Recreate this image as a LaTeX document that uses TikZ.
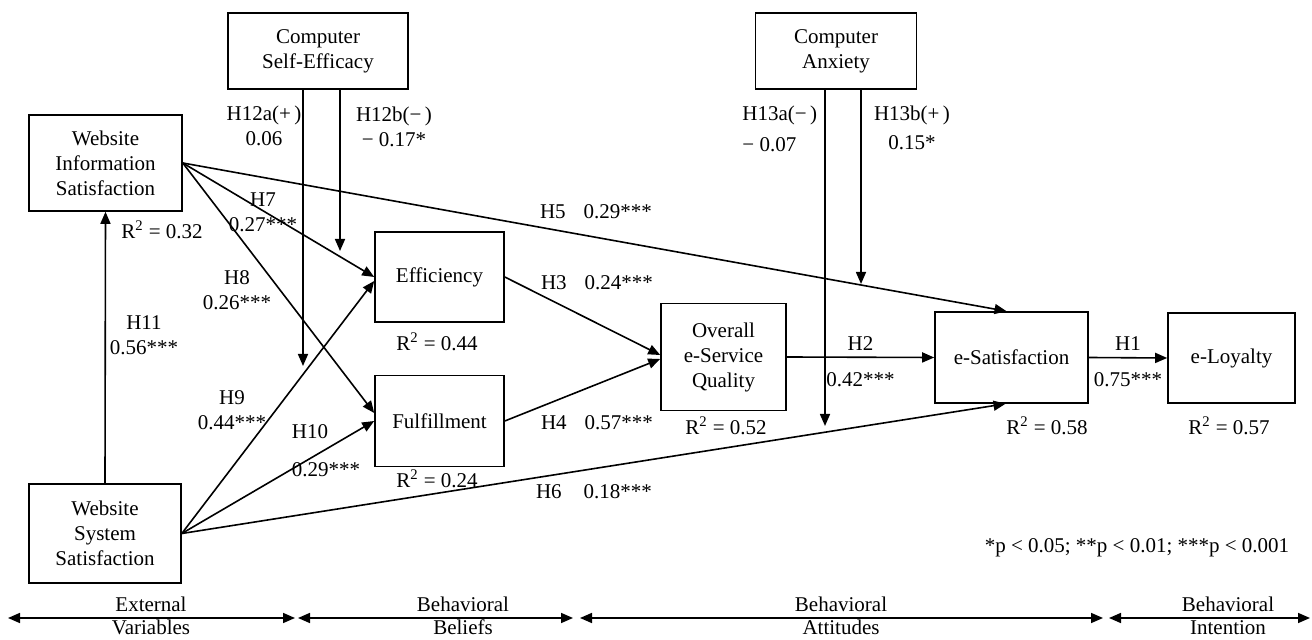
\documentclass[tikz,border=0pt]{standalone}
\usepackage{fontspec}
\setmainfont{Liberation Serif}
\usetikzlibrary{positioning,arrows.meta}

\tikzset{
  box/.style={draw, thick, align=center, inner sep=0pt},
  lbl/.style={align=center, inner sep=0pt}
}

\begin{document}
\begin{tikzpicture}[x=0.5pt, y=-0.5pt, >={Triangle[length=6pt,width=5pt]},
    font=\fontsize{10.5pt}{12.5pt}\selectfont]
        \useasboundingbox (0, 0) rectangle (1312, 640);

        % constructs
        \draw (318, 51) node[box, minimum width=90pt, minimum height=38pt] (cse) {Computer\\Self-Efficacy};

        \draw (836, 51) node[box, minimum width=80.5pt, minimum height=38pt] (ca) {Computer\\Anxiety};

        \draw (105.5, 163) node[box, minimum width=76.5pt, minimum height=48pt] (wis) {Website\\Information\\Satisfaction};

        \draw (105, 533.5) node[box, minimum width=76pt, minimum height=49.5pt] (wss) {Website\\System\\Satisfaction};

        \draw (439.5, 277) node[box, minimum width=64.5pt, minimum height=45pt] (eff) {Efficiency};

        \draw (439.5, 421) node[box, minimum width=64.5pt, minimum height=45.5pt] (ful) {Fulfillment};

        \draw (723.5, 357) node[box, minimum width=62.5pt, minimum height=53.5pt] (osq) {Overall\\e-Service\\Quality};

        \draw (1011.5, 357.5) node[box, minimum width=76.5pt, minimum height=45.5pt] (esat) {e-Satisfaction};

        \draw (1231.5, 358) node[box, minimum width=63.5pt, minimum height=45pt] (eloy) {e-Loyalty};

        % paths
        \draw[thick,->] (wss.north) to (wis.south);

        \draw[thick,->] (wis.east) to (eff.west);

        \draw[thick,->] (wis.east) to ([yshift=4pt]ful.west);

        \draw[thick,->] (wis.east) to ([xshift=-2.5pt]esat.north);

        \draw[thick,->] (wss.east) to ([yshift=-2pt]eff.west);

        \draw[thick,->] (wss.east) to (ful.west);

        \draw[thick,->] (wss.east) to ([xshift=-3pt]esat.south);

        \draw[thick,->] (eff.east) to ([yshift=1pt]osq.west);

        \draw[thick,->] (ful.east) to ([yshift=-1pt]osq.west);

        \draw[thick,->] (osq.east) to node[lbl, above=3pt] (h2) {H2}
        node[lbl, below=7pt] (c2) {0.42***} (esat.west);

        \draw[thick,->] (esat.east) to node[lbl, above=3pt] (h1) {H1}
        node[lbl, below=7pt] (c1) {0.75***} (eloy.west);

        % moderators
        \coordinate (m12a) at (303, 366);

        \coordinate (m12b) at (340, 251);

        \coordinate (m13a) at (825, 426);

        \coordinate (m13b) at (861, 284);

        \draw[thick,->] (cse.south -| m12a) to (m12a);

        \draw[thick,->] (cse.south -| m12b) to (m12b);

        \draw[thick,->] (ca.south -| m13a) to (m13a);

        \draw[thick,->] (ca.south -| m13b) to (m13b);

        % labels
        \draw (264, 126) node[lbl] (l12a) {H12a(+\,)\\0.06};

        \draw (394, 127) node[lbl] (l12b) {H12b(−\,)\\− 0.17*};

        \draw (742, 129) node[lbl, align=left, anchor=west] (l13a) {H13a(−\,)\\[3pt]− 0.07};

        \draw (912, 128) node[lbl] (l13b) {H13b(+\,)\\[2pt]0.15*};

        \draw (162, 230) node[lbl] (r1) {R\textsuperscript{2} = 0.32};

        \draw (263, 212) node[lbl] (l7) {H7\\0.27***};

        \draw (237, 290) node[lbl] (l8) {H8\\0.26***};

        \draw (144, 335) node[lbl] (l11) {H11\\0.56***};

        \draw (232, 410) node[lbl] (l9) {H9\\0.44***};

        \draw (310, 432) node[lbl] (l10) {H10};

        \draw (326, 470) node[lbl] (c10) {0.29***};

        \draw (437, 342) node[lbl] (r2) {R\textsuperscript{2} = 0.44};

        \draw (437, 479) node[lbl] (r3) {R\textsuperscript{2} = 0.24};

        \draw (596, 212) node[lbl] (l5) {H5\hspace{9pt}0.29***};

        \draw (597, 283) node[lbl] (l3) {H3\hspace{9pt}0.24***};

        \draw (597, 423) node[lbl] (l4) {H4\hspace{9pt}0.57***};

        \draw (594, 492) node[lbl] (l6) {H6\hspace{11pt}0.18***};

        \draw (726, 426) node[lbl] (r4) {R\textsuperscript{2} = 0.52};

        \draw (1047, 426) node[lbl] (r5) {R\textsuperscript{2} = 0.58};

        \draw (1229, 426) node[lbl] (r6) {R\textsuperscript{2} = 0.57};

        \draw (1137, 548) node[lbl] (pnote) {*p < 0.05; **p < 0.01; ***p < 0.001};

        % stages
        \coordinate (s0) at (8, 618);

        \coordinate (s1) at (295, 618);

        \coordinate (s2) at (298, 618);

        \coordinate (s3) at (573, 618);

        \coordinate (s4) at (580, 618);

        \coordinate (s5) at (1103, 618);

        \coordinate (s6) at (1109, 618);

        \coordinate (s7) at (1310, 618);

        \draw[thick,<->] (s0) to (s1);

        \draw[thick,<->] (s2) to (s3);

        \draw[thick,<->] (s4) to (s5);

        \draw[thick,<->] (s6) to (s7);

        \draw (151, 616) node[lbl] (ext) {External\\[-1pt]Variables};

        \draw (463, 616) node[lbl] (bel) {Behavioral\\[-1pt]Beliefs};

        \draw (841, 616) node[lbl] (att) {Behavioral\\[-1pt]Attitudes};

        \draw (1228, 616) node[lbl] (int) {Behavioral\\[-1pt]Intention};
\end{tikzpicture}
\end{document}
